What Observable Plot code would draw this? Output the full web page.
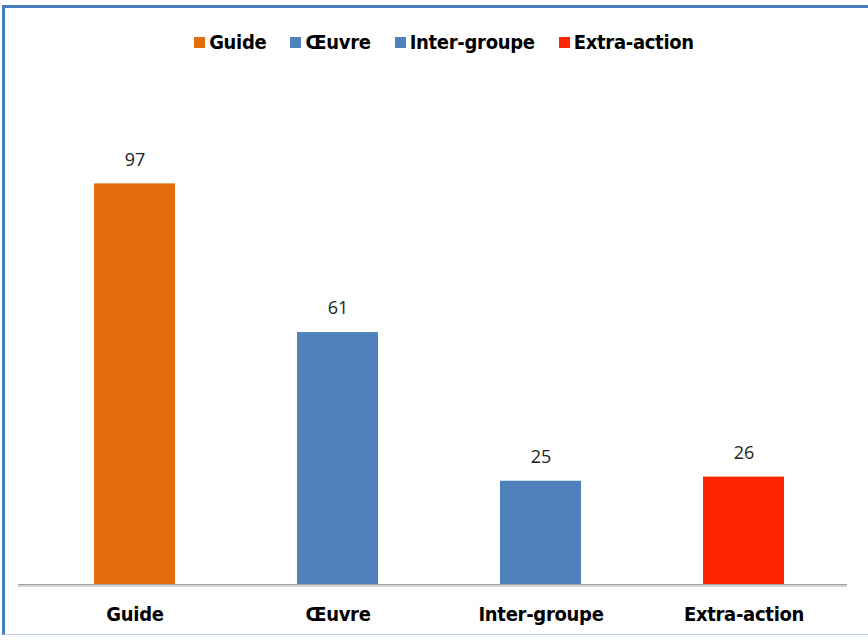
<!DOCTYPE html>
<html>
<head>
<meta charset="utf-8">
<script src="https://cdn.jsdelivr.net/npm/d3@7"></script>
<script src="https://cdn.jsdelivr.net/npm/@observablehq/plot@0.6"></script>
<style>
  html, body { margin: 0; padding: 0; background: #fff; overflow: hidden; }
  #frame {
    position: absolute; left: 2px; top: 5px; width: 880px; height: 630px;
    border-top: 3px solid #4a7ebb; border-left: 3px solid #4a7ebb;
    border-bottom: 1px solid #b9cde5; box-sizing: border-box;
  }
  #wrap { position: absolute; left: 0; top: 0; width: 868px; height: 640px; }
  #legend {
    position: absolute; left: 0; top: 0; width: 888px; height: 80px;
    display: flex; justify-content: center; align-items: center;
    padding-top: 4px; box-sizing: border-box;
    font-family: "DejaVu Sans Condensed", "DejaVu Sans", sans-serif; font-stretch: condensed;
    font-weight: bold; font-size: 20px; color: #000; letter-spacing: -0.3px;
  }
  .item { display: flex; align-items: center; margin: 0 12px; }
  .sw { width: 11px; height: 11px; margin-right: 4px; }
  #chart { position: absolute; left: 0; top: 80px; }
  #chart svg g[aria-label="x-axis tick label"] text { font-stretch: condensed; letter-spacing: -0.3px; }
</style>
</head>
<body>
<div id="frame"></div>
<div id="wrap">
  <div id="legend"></div>
  <div id="chart"></div>
</div>
<script>
const categories = ["Guide", "Œuvre", "Inter-groupe", "Extra-action"];
const values = [97, 61, 25, 26];
const colors = ["#E46C0A", "#4F81BD", "#4F81BD", "#FF2600"];
const yDomain = [0, 100];

const data = categories.map((c, i) => ({category: c, value: values[i]}));

const legend = document.getElementById("legend");
categories.forEach((c, i) => {
  const it = document.createElement("div");
  it.className = "item";
  const sw = document.createElement("div");
  sw.className = "sw";
  sw.style.background = colors[i];
  const t = document.createElement("span");
  t.textContent = c;
  it.appendChild(sw); it.appendChild(t);
  legend.appendChild(it);
});

const plot = Plot.plot({
  width: 868,
  height: 560,
  marginTop: 91,
  marginBottom: 56,
  marginLeft: 18,
  marginRight: 21,
  style: {background: "transparent", overflow: "visible"},
  x: {domain: categories, paddingInner: 0.6, paddingOuter: 0.3, insetLeft: 15, insetRight: 2, label: null},
  y: {domain: yDomain, axis: null},
  color: {type: "ordinal", domain: categories, range: colors},
  marks: [
    Plot.barY(data, {x: "category", y: "value", fill: "category"}),
    Plot.ruleY([0], {stroke: "#d4d4d4", strokeWidth: 2, dy: 1.5}),
    Plot.ruleY([0], {stroke: "#a0a0a0", strokeWidth: 1}),
    Plot.text(data, {x: "category", y: "value", text: d => String(d.value), dy: -24,
      fontSize: 18, fill: "#222", fontFamily: "Open Sans, sans-serif"}),
    Plot.axisX({tickSize: 0, tickPadding: 22, fontSize: 20, fontWeight: "bold",
      fontFamily: "DejaVu Sans Condensed, DejaVu Sans, sans-serif", fill: "#000", label: null})
  ]
});
document.getElementById("chart").appendChild(plot);
</script>
</body>
</html>
